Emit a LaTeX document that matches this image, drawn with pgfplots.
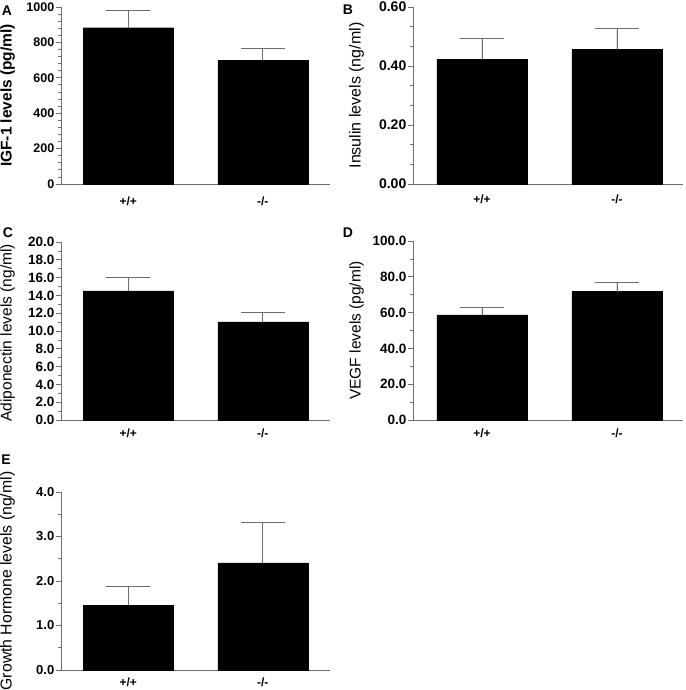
\documentclass[border=0pt]{standalone}
\usepackage{fontspec}
\setmainfont{Liberation Sans}
\usepackage{pgfplots}
\pgfplotsset{compat=1.18}
\definecolor{axgray}{RGB}{110,110,110}
\pgfplotsset{
  panel/.style={
    scale only axis, width=269pt, height=177pt,
    axis x line=bottom, axis y line=left,
    axis line style={-, draw=axgray, line width=0.8pt},
    xmin=-0.5, xmax=1.5, ymin=0,
    xtick={0,1}, xticklabels={+/+,-/-}, xtick style={draw=none},
    tick align=outside, major tick length=5pt, minor tick length=3pt,
    ytick style={draw=axgray, line width=0.8pt},
    every minor tick/.append style={draw=axgray, line width=0.8pt},
    /pgf/number format/assume math mode=true,
    /pgf/number format/1000 sep={},
    yticklabel style={inner sep=1.5pt},
    clip=false,
  },
  bars/.style={ybar, bar width=90pt, fill=black, draw=black,
    error bars/.cd, y dir=plus, y explicit,
    error bar style={draw=axgray, line width=0.8pt},
    error mark options={rotate=90, mark size=22pt, draw=axgray, line width=0.8pt}}
}
\begin{document}
\begin{tikzpicture}
\path[use as bounding box] (0,0) rectangle (685pt,-690pt);
% A
\begin{axis}[panel, at={(61pt,-184pt)}, anchor=south west,
  ymax=1000, ytick={0,200,...,1000}, minor y tick num=4,
  xticklabel style={font=\fontsize{12}{12}\selectfont\bfseries, yshift=-4pt},
  yticklabel style={font=\fontsize{12.5}{12.5}\selectfont\bfseries},
  ylabel={\bfseries IGF-1 levels (pg/ml)},
  ylabel style={font=\fontsize{15.5}{15.5}\selectfont, at={(axis description cs:-0.171,0.5)}, anchor=south, inner sep=0pt}]
\addplot[bars] coordinates {(0,883) +- (0,100) (1,700) +- (0,67)};
\end{axis}
% B
\begin{axis}[panel, at={(413pt,-184pt)}, anchor=south west, width=270pt,
  xmin=-0.511, xmax=1.489,
  ymax=0.6, ytick={0,0.2,0.4,0.6}, minor y tick num=2,
  xticklabel style={font=\fontsize{12}{12}\selectfont\bfseries, yshift=-2.5pt},
  yticklabel style={font=\fontsize{14}{14}\selectfont\bfseries, /pgf/number format/.cd, fixed, fixed zerofill, precision=2},
  ylabel={Insulin levels (ng/ml)},
  ylabel style={font=\fontsize{16}{16}\selectfont, at={(axis description cs:-0.181,0.5)}, anchor=south, inner sep=0pt}]
\addplot[bars] coordinates {(0,0.423) +- (0,0.072) (1,0.457) +- (0,0.072)};
\end{axis}
% C
\begin{axis}[panel, at={(61pt,-420pt)}, anchor=south west, height=178pt,
  ymax=20, ytick={0,2,...,20}, minor y tick num=1,
  xticklabel style={font=\fontsize{12}{12}\selectfont\bfseries, yshift=0pt},
  yticklabel style={font=\fontsize{13.5}{13.5}\selectfont\bfseries, /pgf/number format/.cd, fixed, fixed zerofill, precision=1},
  ylabel={Adiponectin levels (ng/ml)},
  ylabel style={font=\fontsize{15.5}{15.5}\selectfont, at={(axis description cs:-0.171,0.49)}, anchor=south, inner sep=0pt}]
\addplot[bars] coordinates {(0,14.5) +- (0,1.57) (1,11.03) +- (0,1.01)};
\end{axis}
% D
\begin{axis}[panel, at={(413pt,-420pt)}, anchor=south west, width=270pt, height=179pt,
  xmin=-0.511, xmax=1.489,
  ymax=100, ytick={0,20,...,100}, minor y tick num=1,
  xticklabel style={font=\fontsize{12}{12}\selectfont\bfseries, yshift=0pt},
  yticklabel style={font=\fontsize{13.5}{13.5}\selectfont\bfseries, /pgf/number format/.cd, fixed, fixed zerofill, precision=1},
  ylabel={VEGF levels (pg/ml)},
  ylabel style={font=\fontsize{15.5}{15.5}\selectfont, at={(axis description cs:-0.181,0.5)}, anchor=south, inner sep=0pt}]
\addplot[bars] coordinates {(0,58.7) +- (0,4.0) (1,71.7) +- (0,5.0)};
\end{axis}
% E
\begin{axis}[panel, at={(61pt,-670pt)}, anchor=south west, height=178pt,
  ymax=4, ytick={0,1,...,4}, minor y tick num=1,
  xticklabel style={font=\fontsize{12}{12}\selectfont\bfseries, yshift=1pt},
  yticklabel style={font=\fontsize{13}{13}\selectfont\bfseries, /pgf/number format/.cd, fixed, fixed zerofill, precision=1},
  ylabel={Growth Hormone levels (ng/ml)},
  ylabel style={font=\fontsize{15.8}{15.8}\selectfont, at={(axis description cs:-0.171,0.5)}, anchor=south, inner sep=0pt}]
\addplot[bars] coordinates {(0,1.45) +- (0,0.43) (1,2.41) +- (0,0.91)};
\end{axis}
% panel letters
\node[font=\fontsize{14}{14}\selectfont\bfseries] at (7pt,-11pt) {A};
\node[font=\fontsize{14}{14}\selectfont\bfseries] at (348pt,-10pt) {B};
\node[font=\fontsize{14}{14}\selectfont\bfseries] at (8pt,-233pt) {C};
\node[font=\fontsize{14}{14}\selectfont\bfseries] at (348pt,-233pt) {D};
\node[font=\fontsize{14}{14}\selectfont\bfseries] at (6pt,-460pt) {E};
\end{tikzpicture}
\end{document}
